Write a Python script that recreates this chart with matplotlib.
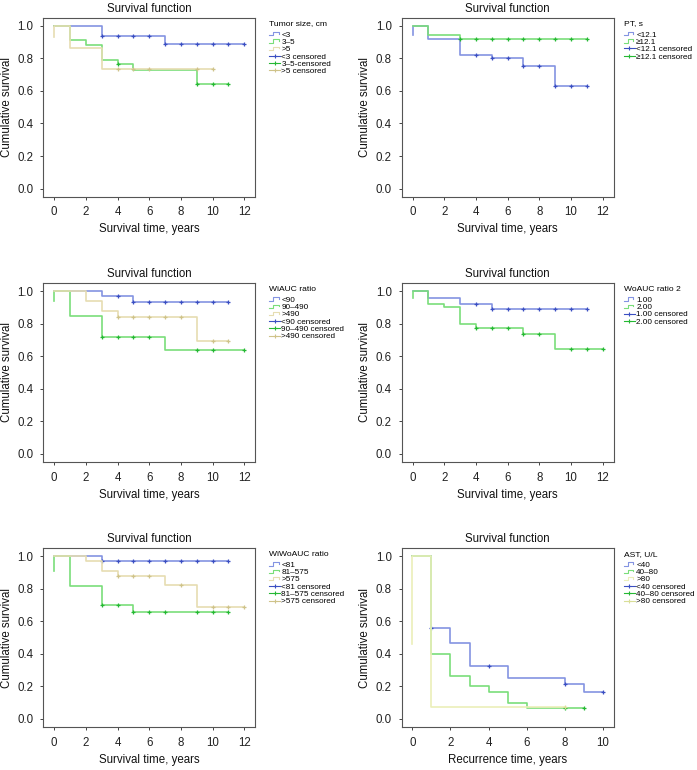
import numpy as np
import matplotlib
matplotlib.use('Agg')
import matplotlib.pyplot as plt
from matplotlib.lines import Line2D
from matplotlib.legend_handler import HandlerBase

plt.rcParams['font.family'] = ['Liberation Sans', 'DejaVu Sans']

# ---- data (Kaplan-Meier step curves) ----
# panel 1: tumor size
ts_lt3_t = [0, 3, 7, 12]
ts_lt3_s = [1.0, 0.94, 0.89, 0.89]
ts_lt3_c = [3, 4, 5, 6, 7, 8, 9, 10, 11, 12]
ts_3to5_t = [0, 1, 2, 3, 4, 5, 9, 11]
ts_3to5_s = [1.0, 0.911, 0.883, 0.793, 0.766, 0.731, 0.64, 0.64]
ts_3to5_c = [4, 9, 10, 11]
ts_gt5_t = [0, 0, 1, 3, 10]
ts_gt5_s = [0.93, 1.0, 0.862, 0.733, 0.733]
ts_gt5_c = [4, 5, 6, 9, 10]

# panel 2: PT
pt_lo_t = [0, 0, 1, 3, 5, 7, 9, 11]
pt_lo_s = [0.945, 1.0, 0.92, 0.821, 0.80, 0.755, 0.63, 0.63]
pt_lo_c = [4, 5, 6, 7, 8, 9, 10, 11]
pt_hi_t = [0, 1, 3, 11]
pt_hi_s = [1.0, 0.945, 0.92, 0.92]
pt_hi_c = [3, 4, 5, 6, 7, 8, 9, 10, 11]

# panel 3: WiAUC ratio
wi_lo_t = [0, 3, 5, 11]
wi_lo_s = [1.0, 0.969, 0.932, 0.932]
wi_lo_c = [4, 5, 6, 7, 8, 9, 10, 11]
wi_mid_t = [0, 0, 1, 3, 7, 12]
wi_mid_s = [0.94, 1.0, 0.846, 0.72, 0.639, 0.639]
wi_mid_c = [3, 4, 5, 6, 9, 10, 12]
wi_hi_t = [0, 2, 3, 4, 9, 11]
wi_hi_s = [1.0, 0.938, 0.875, 0.844, 0.692, 0.692]
wi_hi_c = [4, 5, 6, 7, 8, 10, 11]

# panel 4: WoAUC ratio 2
wo_1_t = [0, 1, 3, 5, 11]
wo_1_s = [1.0, 0.959, 0.92, 0.893, 0.893]
wo_1_c = [4, 5, 6, 7, 8, 9, 10, 11]
wo_2_t = [0, 0, 1, 2, 3, 4, 7, 9, 12]
wo_2_s = [0.96, 1.0, 0.92, 0.90, 0.797, 0.776, 0.739, 0.647, 0.647]
wo_2_c = [4, 5, 6, 7, 8, 10, 11, 12]

# panel 5: WiWoAUC ratio
ww_lo_t = [0, 3, 11]
ww_lo_s = [1.0, 0.969, 0.969]
ww_lo_c = [3, 4, 5, 6, 7, 8, 9, 10, 11]
ww_mid_t = [0, 0, 1, 3, 5, 11]
ww_mid_s = [0.91, 1.0, 0.819, 0.70, 0.659, 0.659]
ww_mid_c = [3, 4, 5, 6, 7, 9, 10, 11]
ww_hi_t = [0, 2, 3, 4, 7, 9, 12]
ww_hi_s = [1.0, 0.969, 0.908, 0.877, 0.823, 0.686, 0.686]
ww_hi_c = [4, 5, 6, 8, 10, 11, 12]

# panel 6: AST (recurrence)
ast_lo_t = [0, 1, 2, 3, 5, 8, 9, 10]
ast_lo_s = [1.0, 0.557, 0.465, 0.325, 0.253, 0.216, 0.163, 0.163]
ast_lo_c = [1, 4, 8, 10]
ast_mid_t = [0, 1, 2, 3, 4, 5, 6, 9]
ast_mid_s = [1.0, 0.40, 0.265, 0.20, 0.167, 0.10, 0.066, 0.066]
ast_mid_c = [8, 9]
ast_hi_t = [0, 0, 1, 8]
ast_hi_s = [0.46, 1.0, 0.076, 0.076]
ast_hi_c = [8]

BLUE = ('#8494e2', '#3b4fc2')
GREEN = ('#7ade7a', '#25b834')
TAN = ('#e6ddb2', '#cfc38a')
PALE = ('#ebefb9', '#d9de98')

panels = [
    dict(title='Tumor size, cm', xlab='Survival time, years', xmax=12,
         groups=[(ts_lt3_t, ts_lt3_s, ts_lt3_c, '<3', '<3 censored', BLUE),
                 (ts_3to5_t, ts_3to5_s, ts_3to5_c, '3–5', '3–5-censored', GREEN),
                 (ts_gt5_t, ts_gt5_s, ts_gt5_c, '>5', '>5 censored', TAN)]),
    dict(title='PT, s', xlab='Survival time, years', xmax=12,
         groups=[(pt_lo_t, pt_lo_s, pt_lo_c, '<12.1', '<12.1 censored', BLUE),
                 (pt_hi_t, pt_hi_s, pt_hi_c, '≥12.1', '≥12.1 censored', GREEN)]),
    dict(title='WiAUC ratio', xlab='Survival time, years', xmax=12,
         groups=[(wi_lo_t, wi_lo_s, wi_lo_c, '<90', '<90 censored', BLUE),
                 (wi_mid_t, wi_mid_s, wi_mid_c, '90–490', '90–490 censored', GREEN),
                 (wi_hi_t, wi_hi_s, wi_hi_c, '>490', '>490 censored', TAN)]),
    dict(title='WoAUC ratio 2', xlab='Survival time, years', xmax=12,
         groups=[(wo_1_t, wo_1_s, wo_1_c, '1.00', '1.00 censored', BLUE),
                 (wo_2_t, wo_2_s, wo_2_c, '2.00', '2.00 censored', GREEN)]),
    dict(title='WiWoAUC ratio', xlab='Survival time, years', xmax=12,
         groups=[(ww_lo_t, ww_lo_s, ww_lo_c, '<81', '<81 censored', BLUE),
                 (ww_mid_t, ww_mid_s, ww_mid_c, '81–575', '81–575 censored', GREEN),
                 (ww_hi_t, ww_hi_s, ww_hi_c, '>575', '>575 censored', TAN)]),
    dict(title='AST, U/L', xlab='Recurrence time, years', xmax=10,
         groups=[(ast_lo_t, ast_lo_s, ast_lo_c, '<40', '<40 censored', BLUE),
                 (ast_mid_t, ast_mid_s, ast_mid_c, '40–80', '40–80 censored', GREEN),
                 (ast_hi_t, ast_hi_s, ast_hi_c, '>80', '>80 censored', PALE)]),
]


class HandlerStep(HandlerBase):
    # little step glyph like the SPSS legend
    def create_artists(self, legend, orig, xd, yd, w, h, fontsize, trans):
        x = np.array([0, 0.35, 0.35, 0.85, 0.85]) * w - xd
        y = np.array([0.2, 0.2, 0.8, 0.8, 0.5]) * h - yd
        ln = Line2D(x, y, color=orig.get_color(), lw=0.8, transform=trans)
        return [ln]


def step_value(t, s, x):
    i = np.searchsorted(t, x, side='right') - 1
    return np.asarray(s)[i]


lefts = [0.0621, 0.5763]
bottoms = [0.7445, 0.40, 0.0558]
W, H = 0.304, 0.2325
FS = 8.3

fig = plt.figure(figsize=(6.97, 7.70), dpi=100)

for k, p in enumerate(panels):
    row, col = divmod(k, 2)
    ax = fig.add_axes([lefts[col], bottoms[row], W, H])
    xm = p['xmax']
    pad = 0.69 if xm == 12 else 0.56
    ax.set_xlim(-pad, xm + pad)
    ax.set_ylim(-0.05, 1.05)
    step_h, cens_h = [], []
    for t, s, c, lab, clab, (lc, mc) in p['groups']:
        ax.plot(t, s, drawstyle='steps-post', color=lc, lw=1.2)
        cy = step_value(np.array(t), s, np.array(c))
        ax.plot(c, cy, ls='none', marker='+', ms=3.2, mew=0.9, color=mc)
        step_h.append(Line2D([], [], color=lc, label=lab))
        cens_h.append(Line2D([], [], color=mc, marker='+', ms=3.5, mew=0.8, lw=0.8, label=clab))
    handles = step_h + cens_h
    hmap = {h: HandlerStep() for h in step_h}
    bx = 1.062 if col == 0 else 1.045
    leg = ax.legend(handles=handles, loc='upper left', bbox_to_anchor=(bx, 0.99),
                    frameon=False, fontsize=5.9, title=p['title'], title_fontsize=6.1,
                    alignment='left', labelspacing=-0.05, handlelength=1.35,
                    handletextpad=0.15, borderpad=0.1, borderaxespad=0,
                    handler_map=hmap)
    leg._legend_box.sep = 2.5
    ax.set_xticks(np.arange(0, xm + 1, 2))
    ax.set_yticks([0, 0.2, 0.4, 0.6, 0.8, 1.0])
    ax.set_yticklabels(['0.0', '0.2', '0.4', '0.6', '0.8', '1.0'])
    ax.tick_params(length=2.5, width=0.7, color='#444444', labelsize=FS,
                   labelcolor='#222222', pad=4.5)
    for sp in ax.spines.values():
        sp.set_color('#555555')
        sp.set_linewidth(0.8)
    ax.set_title('Survival function', fontsize=FS, pad=4, color='#111111')
    ax.set_xlabel(p['xlab'], fontsize=FS, labelpad=3.5, color='#111111')
    ax.set_ylabel('Cumulative survival', fontsize=FS, labelpad=3.5, color='#111111')

fig.savefig('out.png', dpi=100)
